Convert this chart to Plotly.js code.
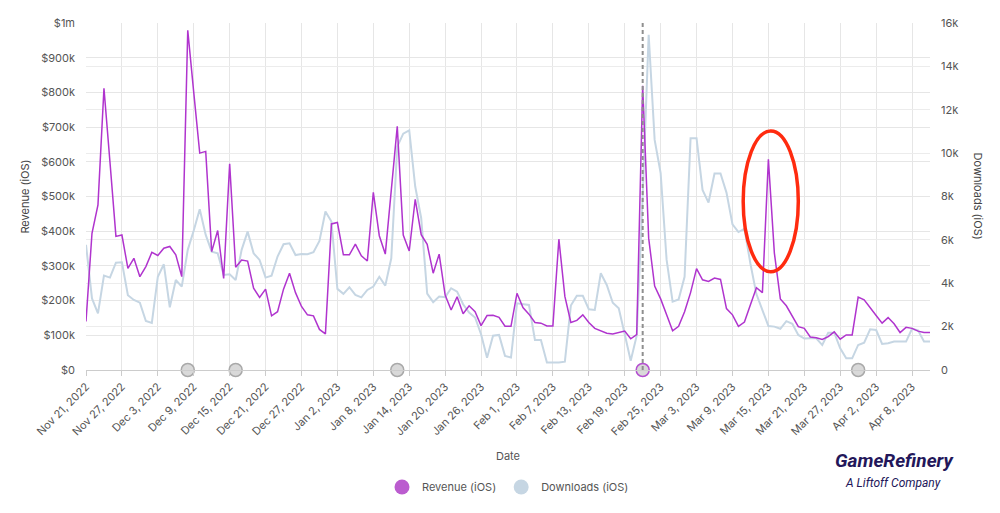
<!DOCTYPE html>
<html>
<head>
<meta charset="utf-8">
<script src="https://cdn.plot.ly/plotly-3.0.1.min.js"></script>
<style>
html,body{margin:0;padding:0;background:#fff;}
#chart{width:1000px;height:513px;}
</style>
</head>
<body>
<div id="chart"></div>
<script>
// First day of the daily series
const startDate = '2022-11-21';

// Revenue (iOS), in thousands of USD, one value per day from Nov 21, 2022
const revenueK = [
 140,394,476,812,600,385,389,293,322,269,
 298,339,330,351,356,332,269,979,800,625,
 630,341,402,264,594,296,317,314,236,209,
 233,156,168,233,279,223,183,159,156,117,
 104,421,425,332,332,363,329,314,512,387,
 334,510,702,389,343,492,390,362,279,334,
 216,173,211,162,185,168,128,157,158,152,
 126,126,221,180,161,137,135,127,127,377,
 212,137,143,159,137,120,113,106,104,107,
 112,90,102,819,380,242,205,159,113,126,
 168,223,292,260,255,265,261,177,159,126,
 138,188,237,223,607,337,205,185,155,125,
 120,95,93,88,96,110,89,101,101,210,
 202,181,157,135,151,133,108,123,120,112,
 108,108
];

// Downloads (iOS), one value per day from Nov 21, 2022
const downloads = [
 5770,3300,2615,4350,4260,4950,4970,3445,3230,3107,
 2260,2170,4300,4875,2890,4150,3845,5540,6430,7410,
 6230,5460,5380,4380,4415,4150,5540,6380,5380,5075,
 4260,4350,5230,5800,5845,5300,5350,5340,5430,5950,
 7305,6845,3740,3510,3815,3460,3350,3690,3845,4300,
 3890,5150,10300,10900,11050,8460,7000,3520,3130,3385,
 3360,3770,3615,3030,2650,2420,1650,560,1580,1615,
 650,575,3075,3020,3000,1385,1385,350,350,350,
 385,2970,3420,3420,2800,2770,4460,3920,3100,2845,
 1650,430,1580,8000,15460,10610,9075,5075,3150,3250,
 4300,10690,10690,8305,7720,9060,9060,8180,6720,6360,
 6510,4900,3500,2800,2030,2000,1900,2250,2130,1615,
 1450,1460,1460,1150,1720,1720,1000,540,540,1155,
 1260,1875,1845,1200,1230,1310,1310,1310,1900,1830,
 1310,1310
];

// Event markers on the date axis
const eventDates = ['2022-12-08','2022-12-16','2023-01-12','2023-02-22','2023-03-30'];
const highlightDate = '2023-02-22';

// Axis ticks
const revTickVals = [0,100000,200000,300000,400000,500000,600000,700000,800000,900000,1000000];
const revTickText = ['$0','$100k','$200k','$300k','$400k','$500k','$600k','$700k','$800k','$900k','$1m'];
const dlTickVals = [0,2000,4000,6000,8000,10000,12000,14000,16000];
const dlTickText = ['0','2k','4k','6k','8k','10k','12k','14k','16k'];

// Build the date list (one per day)
function isoDay(i){
  const d = new Date(startDate + 'T00:00:00Z');
  d.setUTCDate(d.getUTCDate() + i);
  return d.toISOString().slice(0,10);
}
const dates = revenueK.map((_, i) => isoDay(i));
const revenue = revenueK.map(v => v * 1000);

const purple = '#b034ce';
const blue = '#c6d6e3';
const fontFam = 'Inter, Lato, "DejaVu Sans", sans-serif';

const traces = [
  {
    x: dates, y: downloads, type: 'scatter', mode: 'lines',
    name: 'Downloads (iOS)', yaxis: 'y', showlegend: false,
    line: {color: blue, width: 2}, hoverinfo: 'skip'
  },
  {
    x: dates, y: revenue, type: 'scatter', mode: 'lines',
    name: 'Revenue (iOS)', yaxis: 'y2', showlegend: false,
    line: {color: purple, width: 1.5}, hoverinfo: 'skip'
  },
  {
    x: eventDates, y: eventDates.map(() => 0), type: 'scatter', mode: 'markers',
    yaxis: 'y2', showlegend: false, cliponaxis: false, hoverinfo: 'skip',
    marker: {
      size: 13, color: '#d9d9d9',
      line: {width: 1.5, color: eventDates.map(d => d === highlightDate ? '#b44fd0' : '#a9a9a9')}
    }
  },
  // legend entries
  {
    x: [null], y: [null], type: 'scatter', mode: 'markers', name: 'Revenue (iOS)',
    yaxis: 'y2', marker: {size: 15, color: '#bb5ccf'}
  },
  {
    x: [null], y: [null], type: 'scatter', mode: 'markers', name: 'Downloads (iOS)',
    yaxis: 'y2', marker: {size: 15, color: '#c6d6e3'}
  }
];

const layout = {
  width: 1000, height: 513,
  margin: {l: 86, r: 70, t: 23, b: 143},
  paper_bgcolor: '#ffffff', plot_bgcolor: '#ffffff',
  font: {family: fontFam, size: 11, color: '#555'},
  showlegend: true,
  legend: {
    orientation: 'h', x: 0.5, xanchor: 'center', y: -0.337, yanchor: 'middle',
    font: {size: 11, color: '#555'}, itemsizing: 'trace', traceorder: 'normal'
  },
  xaxis: {
    type: 'date',
    range: [dates[0], dates[dates.length - 1]],
    tick0: startDate, dtick: 6 * 86400000,
    tickformat: '%b %-d, %Y', tickangle: -45,
    showgrid: true, gridcolor: '#e6e6e6', gridwidth: 1,
    showline: true, linecolor: '#cccccc', linewidth: 1,
    ticks: 'outside', ticklen: 5, tickcolor: '#cccccc',
    zeroline: false,
    tickfont: {size: 11, color: '#555'},
    title: {text: 'Date', font: {size: 11, color: '#555'}, standoff: 14}
  },
  yaxis: {
    side: 'right', range: [0, 16000],
    tickvals: dlTickVals, ticktext: dlTickText,
    showgrid: true, gridcolor: '#ececec', zeroline: false,
    ticks: '', ticklabelstandoff: 10,
    tickfont: {size: 11, color: '#555'}
  },
  yaxis2: {
    side: 'left', overlaying: 'y', range: [0, 1000000],
    tickvals: revTickVals, ticktext: revTickText,
    showgrid: true, gridcolor: '#e6e6e6', zeroline: false,
    ticks: '', ticklabelstandoff: 10,
    tickfont: {size: 11, color: '#555'},
    title: {text: 'Revenue (iOS)', font: {size: 11, color: '#444'}, standoff: 9}
  },
  shapes: [
    {
      type: 'line', xref: 'x', yref: 'paper',
      x0: highlightDate, x1: highlightDate, y0: 0, y1: 1,
      line: {color: '#8f8f8f', width: 2, dash: '4px,3px'}, layer: 'above'
    },
    {
      type: 'circle', xref: 'x', yref: 'y2',
      x0: '2023-03-10 19:00', x1: '2023-03-20 00:00', y0: 283000, y1: 689000,
      line: {color: '#ff2b0f', width: 3.5}, layer: 'above'
    }
  ],
  annotations: [
    {
      text: 'Downloads (iOS)', xref: 'paper', yref: 'paper', x: 1.058, y: 0.5,
      xanchor: 'center', yanchor: 'middle', textangle: 90, showarrow: false,
      font: {size: 11, color: '#444'}
    },
    {
      text: '<b><i>GameRefinery</i></b>', xref: 'paper', yref: 'paper',
      x: 0.958, y: -0.262, xanchor: 'center', yanchor: 'middle', showarrow: false,
      font: {size: 19, color: '#23175a', family: 'Roboto, "DejaVu Sans", sans-serif'}
    },
    {
      text: '<i>A Liftoff Company</i>', xref: 'paper', yref: 'paper',
      x: 0.956, y: -0.325, xanchor: 'center', yanchor: 'middle', showarrow: false,
      font: {size: 12, color: '#23175a', family: 'Roboto, "DejaVu Sans", sans-serif'}
    }
  ]
};

Plotly.newPlot('chart', traces, layout, {displayModeBar: false, staticPlot: true});
</script>
</body>
</html>
